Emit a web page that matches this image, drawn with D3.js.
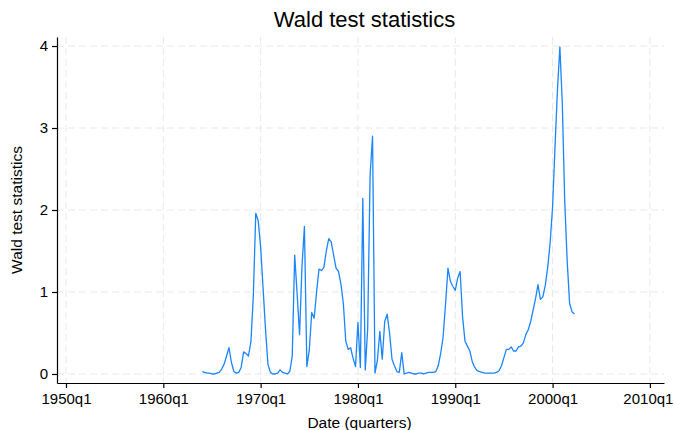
<!DOCTYPE html>
<html>
<head>
<meta charset="utf-8">
<title>Wald test statistics</title>
<style type="text/css">
body {margin: 0; background: #fff;}
svg {display: block; font-family: "Liberation Sans", Arial, sans-serif;}
.grid line {stroke: #e8e8e8; stroke-width: 1; stroke-dasharray: 7,4;}
.axis .domain {stroke: #000; stroke-width: 1.2;}
.axis .tick line {stroke: #000; stroke-width: 1.2;}
.axis .tick text {fill: #000; font-size: 15px;}
</style>
<script src="https://d3js.org/d3.v7.min.js"></script>
</head>
<body>
<svg width="674" height="430"></svg>
<script>
// first observation of the series
var startYear = 1964, startQuarter = 1;

// Wald statistic, one value per quarter from 1964q1
var wald = [
  0.03, 0.02, 0.01, 0.01, 0.00, 0.00, 0.01, 0.02,   // 1964-65
  0.06, 0.12, 0.22, 0.32, 0.14, 0.03, 0.01, 0.02,   // 1966-67
  0.08, 0.27, 0.25, 0.22, 0.39, 0.95, 1.96, 1.87,   // 1968-69
  1.55, 1.05, 0.55, 0.12, 0.02, 0.00, 0.00, 0.01,   // 1970-71
  0.05, 0.02, 0.01, 0.00, 0.03, 0.22, 1.45, 0.98,   // 1972-73
  0.48, 1.31, 1.80, 0.09, 0.29, 0.75, 0.68, 1.00,   // 1974-75
  1.28, 1.26, 1.30, 1.50, 1.65, 1.61, 1.45, 1.29,   // 1976-77
  1.25, 1.10, 0.86, 0.40, 0.30, 0.32, 0.19, 0.09,   // 1978-79
  0.63, 0.08, 2.14, 0.05, 0.55, 2.43, 2.90, 0.01,   // 1980-81
  0.17, 0.52, 0.18, 0.64, 0.73, 0.50, 0.18, 0.10,   // 1982-83
  0.03, 0.02, 0.26, 0.00, 0.01, 0.02, 0.01, 0.00,   // 1984-85
  0.00, 0.01, 0.01, 0.00, 0.01, 0.02, 0.02, 0.02,   // 1986-87
  0.03, 0.10, 0.25, 0.45, 0.85, 1.29, 1.13, 1.07,   // 1988-89
  1.02, 1.17, 1.25, 0.70, 0.40, 0.34, 0.28, 0.15,   // 1990-91
  0.08, 0.04, 0.03, 0.02, 0.01, 0.01, 0.01, 0.01,   // 1992-93
  0.01, 0.02, 0.04, 0.10, 0.20, 0.30, 0.30, 0.33,   // 1994-95
  0.28, 0.28, 0.33, 0.34, 0.38, 0.48, 0.54, 0.64,   // 1996-97
  0.78, 0.92, 1.09, 0.91, 0.94, 1.08, 1.30, 1.60,   // 1998-99
  2.04, 2.77, 3.46, 3.99, 3.30, 2.10, 1.38, 0.86,   // 2000-01
  0.76, 0.73                                        // 2002
];

var xTickLabels = ["1950q1", "1960q1", "1970q1", "1980q1", "1990q1", "2000q1", "2010q1"];
var yTicks = [0, 1, 2, 3, 4];

// Stata style quarterly index: 1960q1 = 0
function qIndex(label) {
  var p = label.split("q");
  return (+p[0] - 1960) * 4 + (+p[1] - 1);
}

var startT = (startYear - 1960) * 4 + (startQuarter - 1);
var data = wald.map(function(v, i) { return {t: startT + i, v: v}; });
var xTicks = xTickLabels.map(qIndex);

var svg = d3.select("svg"),
    margin = {top: 37, right: 10, bottom: 47, left: 57},
    width = +svg.attr("width") - margin.left - margin.right,
    height = +svg.attr("height") - margin.top - margin.bottom,
    g = svg.append("g").attr("transform", "translate(" + margin.left + "," + margin.top + ")");

var x = d3.scaleLinear().domain([-43.7, 205.8]).range([0, width]);
var y = d3.scaleLinear().domain([-0.11, 4.11]).range([height, 0]);

// grid
g.append("g").attr("class", "grid")
  .selectAll("line").data(yTicks).enter().append("line")
  .attr("x1", 0).attr("x2", width)
  .attr("y1", function(d) { return y(d); })
  .attr("y2", function(d) { return y(d); });
g.append("g").attr("class", "grid")
  .selectAll("line").data(xTicks).enter().append("line")
  .attr("y1", 0).attr("y2", height)
  .attr("x1", function(d) { return x(d); })
  .attr("x2", function(d) { return x(d); });

// series
var line = d3.line()
  .x(function(d) { return x(d.t); })
  .y(function(d) { return y(d.v); });
g.append("path")
  .datum(data)
  .attr("fill", "none")
  .attr("stroke", "#1a85ff")
  .attr("stroke-width", 1.3)
  .attr("stroke-linejoin", "round")
  .attr("d", line);

// axes
var xAxis = g.append("g")
  .attr("class", "axis")
  .attr("transform", "translate(0," + height + ")")
  .call(d3.axisBottom(x).tickValues(xTicks).tickSize(5).tickPadding(5).tickSizeOuter(0)
    .tickFormat(function(d, i) { return xTickLabels[i]; }));
// keep the last label inside the window
xAxis.selectAll(".tick text")
  .attr("dx", function(d, i) { return i == xTicks.length - 1 ? -2 : 0; });
g.append("g")
  .attr("class", "axis")
  .call(d3.axisLeft(y).tickValues(yTicks).tickSize(5).tickPadding(4).tickSizeOuter(0)
    .tickFormat(d3.format("d")));

// titles
svg.append("text")
  .attr("x", margin.left + width / 2 + 4)
  .attr("y", 27)
  .attr("text-anchor", "middle")
  .style("font-size", "22px")
  .text("Wald test statistics");
svg.append("text")
  .attr("x", margin.left + width / 2 - 1)
  .attr("y", 428)
  .attr("text-anchor", "middle")
  .style("font-size", "15.5px")
  .text("Date (quarters)");
svg.append("text")
  .attr("transform", "translate(22," + (margin.top + height / 2) + ") rotate(-90)")
  .attr("text-anchor", "middle")
  .style("font-size", "15.5px")
  .text("Wald test statistics");
</script>
</body>
</html>
